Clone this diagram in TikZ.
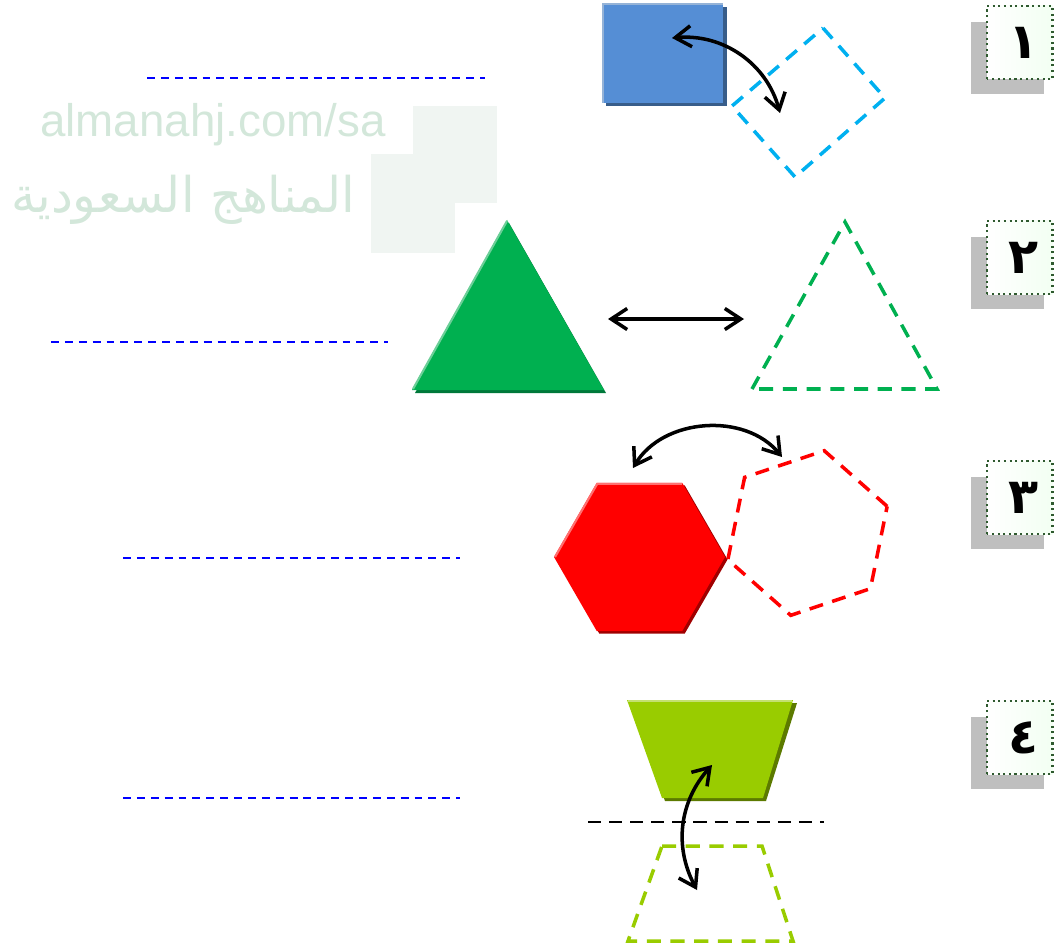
\documentclass[tikz,border=0pt]{standalone}
\usepackage{fontspec}
\usepackage{tikz}
\usetikzlibrary{arrows.meta}
\newfontfamily\arabicfont[Script=Arabic]{DejaVu Sans}
\newfontfamily\markfont{Liberation Sans}
\TeXXeTstate=1

\definecolor{rectblue}{HTML}{558ED5}
\definecolor{rectshadow}{HTML}{385D8A}
\definecolor{rectlight}{HTML}{95B3D7}
\definecolor{ghostcyan}{HTML}{00B0F0}
\definecolor{shapegreen}{HTML}{00B050}
\definecolor{greenshadow}{HTML}{00783A}
\definecolor{greenlight}{HTML}{6CCF98}
\definecolor{shapered}{HTML}{FF0000}
\definecolor{redshadow}{HTML}{A00000}
\definecolor{redlight}{HTML}{FF7070}
\definecolor{shapelime}{HTML}{99CC00}
\definecolor{limeshadow}{HTML}{5C7A00}
\definecolor{limelight}{HTML}{C4E070}
\definecolor{boxgray}{HTML}{BFBFBF}
\definecolor{boxedge}{HTML}{2F5A2F}
\definecolor{wmgray}{HTML}{F0F5F2}
\definecolor{wmtext}{HTML}{D3E7DA}

\tikzset{
  guide/.style={blue, line width=1pt, dash pattern=on 4.5pt off 3.4pt},
  ghost/.style={line width=2pt, dash pattern=on 8pt off 5.5pt},
  turn/.style={black, line width=2pt,
    {Straight Barb[length=3.2mm,width=4.2mm]}-{Straight Barb[length=3.2mm,width=4.2mm]}},
  numfront/.style={draw=boxedge, line width=1.2pt, dotted, left color=white, right color=green!5}
}

\begin{document}
\begin{tikzpicture}[scale=1]
\useasboundingbox (0,0) rectangle (21.08,18.98);
% watermark
\fill[wmgray] (8.26,16.86) rectangle (9.94,14.92);
\fill[wmgray] (7.42,15.90) rectangle (9.10,13.92);
\node[wmtext, font=\markfont\fontsize{26}{28}\selectfont] (wmlatin) at (4.26,16.48) {almanahj.com/sa};
\node[wmtext, font=\arabicfont\fontsize{28}{30}\selectfont] (wmarabic) at (3.66,14.98) {\beginR المناهج السعودية\endR};

% answer lines
\draw[guide] (2.94,17.42) -- (9.70,17.42);
\draw[guide] (1.02,12.14) -- (7.76,12.14);
\draw[guide] (2.46,7.82) -- (9.20,7.82);
\draw[guide] (2.46,3.02) -- (9.20,3.02);

% number boxes
\foreach \y/\d [count=\i] in {17.40/١, 13.10/٢, 8.30/٣, 3.50/٤} {
  \fill[boxgray] (19.42,\y-0.30) rectangle (20.88,\y+1.14);
  \path[numfront] (19.74,\y) rectangle (21.05,\y+1.46);
  \node[font=\arabicfont\bfseries\fontsize{28}{30}\selectfont] (num\i) at (20.46,\y+0.72) {\d};
}

% 1: rotation
\fill[rectshadow] (12.12,16.86) rectangle (14.54,18.84);
\fill[rectblue] (12.04,16.92) rectangle (14.46,18.92);
\draw[rectlight, line width=1.2pt] (12.06,16.92) -- (12.06,18.90) -- (14.46,18.90);
\draw[ghost, draw=ghostcyan] (16.46,18.42) -- (17.70,17.02) -- (15.90,15.44) -- (14.64,16.86) -- cycle;
\coordinate (rotA) at (13.44,18.22);
\coordinate (rotB) at (15.60,16.72);

% 2: translation
\fill[greenshadow] (8.30,11.12) -- (10.18,14.52) -- (12.12,11.12) -- cycle;
\fill[shapegreen] (8.24,11.18) -- (10.14,14.58) -- (12.08,11.18) -- cycle;
\draw[greenlight, line width=1.2pt] (8.26,11.20) -- (10.14,14.56);
\draw[ghost, draw=shapegreen] (15.04,11.20) -- (16.90,14.54) -- (18.74,11.20) -- cycle;
\coordinate (slideA) at (12.16,12.60);
\coordinate (slideB) at (14.88,12.60);

% 3: rotation about a vertex
\fill[redshadow] (12.84,7.79) +(0:1.71) -- +(60:1.71) -- +(120:1.71) -- +(180:1.71) -- +(240:1.71) -- +(300:1.71) -- cycle;
\fill[shapered] (12.79,7.84) +(0:1.71) -- +(60:1.71) -- +(120:1.71) -- +(180:1.71) -- +(240:1.71) -- +(300:1.71) -- cycle;
\draw[redlight, line width=1.2pt] (12.79,7.84) +(180:1.69) -- +(120:1.69) -- +(60:1.69);
\draw[ghost, draw=shapered] (16.15,8.32) +(18.5:1.68) -- +(78.5:1.68) -- +(138.5:1.68) -- +(198.5:1.68) -- +(258.5:1.68) -- +(318.5:1.68) -- cycle;
\coordinate (spinA) at (12.66,9.62);
\coordinate (spinB) at (15.64,9.84);

% 4: reflection
\fill[limeshadow] (12.62,4.92) -- (15.94,4.92) -- (15.32,2.96) -- (13.30,2.96) -- cycle;
\fill[shapelime] (12.54,4.98) -- (15.86,4.98) -- (15.26,3.02) -- (13.24,3.02) -- cycle;
\draw[limelight, line width=1.2pt] (12.56,4.96) -- (15.84,4.96);
\draw[black, line width=1.2pt, dash pattern=on 7.5pt off 4.5pt] (11.76,2.54) -- (16.48,2.54);
\draw[ghost, draw=shapelime] (13.24,2.06) -- (15.24,2.06) -- (15.86,0.16) -- (12.56,0.16) -- cycle;
\coordinate (flipA) at (14.24,3.68);
\coordinate (flipB) at (13.94,1.18);

% arrows
\draw[turn] (rotA) to[bend left=40] (rotB);
\draw[turn] (slideA) -- (slideB);
\draw[turn] (spinA) to[bend left=55] (spinB);
\draw[turn] (flipA) to[bend right=35] (flipB);
\end{tikzpicture}
\end{document}
